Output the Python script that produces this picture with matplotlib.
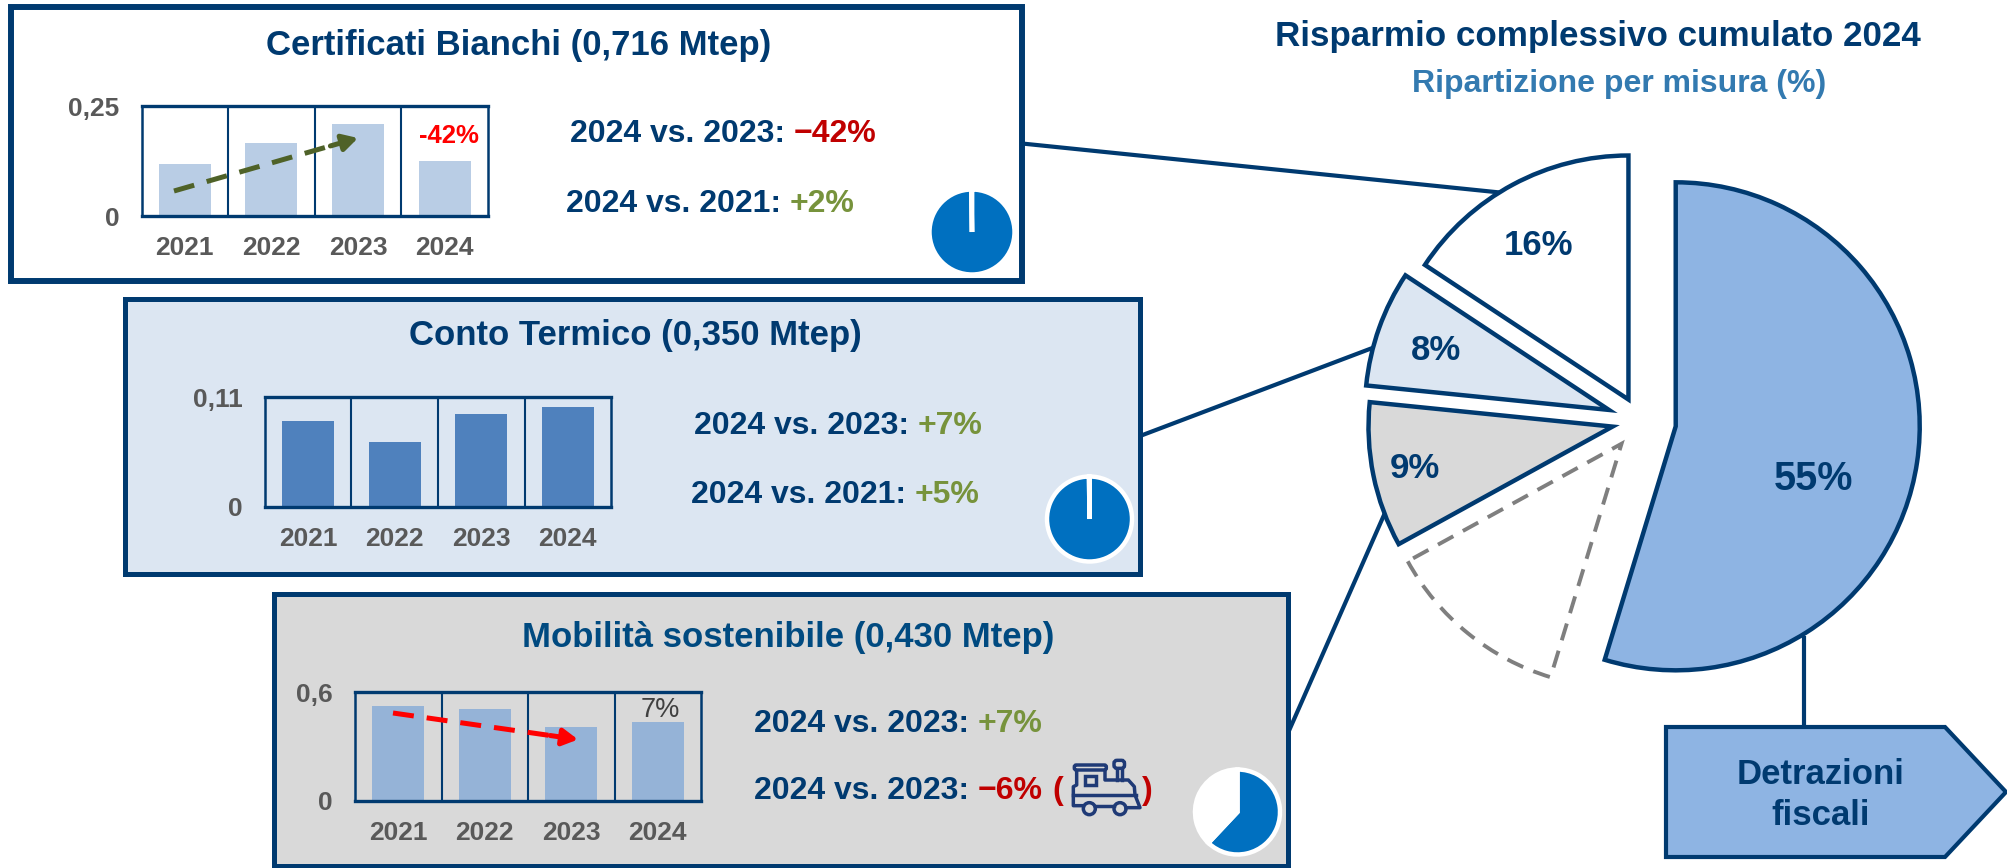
import matplotlib
matplotlib.use("Agg")
import matplotlib.pyplot as plt
from matplotlib.patches import Rectangle, Polygon, Circle, FancyBboxPatch

plt.rcParams['font.family'] = ['Liberation Sans', 'DejaVu Sans']
plt.rcParams['font.weight'] = 'bold'

NAVY = "#003a70"
GREY = "#595959"
GREEN = "#77933c"
DARKRED = "#c00000"
W, H = 2008, 868

# ---------------- Data ----------------
years = ["2021", "2022", "2023", "2024"]
cb_values = [0.118, 0.166, 0.209, 0.125]
ct_values = [0.086, 0.065, 0.093, 0.100]
mob_values = [0.523, 0.506, 0.407, 0.435]
cb_ticks = ["0", "0,25"]
ct_ticks = ["0", "0,11"]
mob_ticks = ["0", "0,6"]
cb_max, ct_max, mob_max = 0.25, 0.11, 0.6

pie_shares = [54.7, 12.3, 9.6, 7.7, 15.7]
pie_explode = [0.148, 0.12, 0.115, 0.135, 0.10]
pie_labels = ["55%", "9%", "8%", "16%"]

cb_share = [99.8, 0.2]
ct_share = [99.8, 0.2]
mob_share = [62, 38]

fig = plt.figure(figsize=(W / 100, H / 100), dpi=100, facecolor="white")


def px_axes(x0, y0, x1, y1, zorder):
    return fig.add_axes([x0 / W, 1 - y1 / H, (x1 - x0) / W, (y1 - y0) / H], zorder=zorder)


def overlay(zorder):
    ax = px_axes(0, 0, W, H, zorder)
    ax.set_xlim(0, W)
    ax.set_ylim(H, 0)
    ax.axis("off")
    return ax


bg = overlay(0)
fg = overlay(10)
renderer = fig.canvas.get_renderer()


# y is the middle of the digits, converted to a baseline so all text lines up
def label(x, y, s, size, color=NAVY, ha="center", weight="bold"):
    return fg.text(x, y + 0.358 * size / 0.72, s, fontsize=size, color=color, ha=ha,
                   va="baseline", fontweight=weight)


def rich(x, y, parts, size=23):
    for s, c in parts:
        t = label(x, y, s, size, c, ha="left")
        x += t.get_window_extent(renderer).width + 0.278 * size / 0.72
    return x


def bars(rect, values, ymax, ticks, color):
    ax = px_axes(*rect, 3)
    ax.patch.set_alpha(0)
    ax.bar(range(4), values, width=0.6, color=color, zorder=2)
    ax.set_xlim(-0.5, 3.5)
    ax.set_ylim(0, ymax)
    for d in [0.5, 1.5, 2.5]:
        ax.axvline(d, color=NAVY, lw=1.5, zorder=3)
    ax.set_xticks(range(4))
    ax.set_xticklabels(years)
    ax.set_yticks([0, ymax])
    ax.set_yticklabels(ticks)
    ax.tick_params(axis="x", length=0, pad=14.5, labelsize=19, labelcolor=GREY)
    ax.tick_params(axis="y", length=0, pad=16, labelsize=19, labelcolor=GREY)
    for side, sp in ax.spines.items():
        sp.set_color(NAVY)
        sp.set_linewidth(2.4 if side in ("top", "bottom") else 1.8)
    return ax


def mini_pie(cx, cy, share, colors):
    half = 46
    ax = px_axes(cx - half, cy - half, cx + half, cy + half, 4)
    ax.pie(share, colors=colors, startangle=90, counterclock=False, radius=1,
           wedgeprops=dict(edgecolor="white", linewidth=3.2))
    ax.set_xlim(-half / 42.5, half / 42.5)
    ax.set_ylim(-half / 42.5, half / 42.5)
    ax.axis("off")


def dashed_arrow(x0, y0, x1, y1, color):
    f = 0.88
    xm, ym = x0 + (x1 - x0) * f, y0 + (y1 - y0) * f
    fg.plot([x0, xm], [y0, ym], color=color, lw=3.6, dashes=(4.2, 2.6), solid_capstyle="butt")
    fg.annotate("", xy=(x1, y1), xytext=(xm - (x1 - x0) * 0.03, ym - (y1 - y0) * 0.03),
                arrowprops=dict(arrowstyle="-|>,head_length=0.9,head_width=0.5", color=color,
                                lw=3.6, shrinkA=0, shrinkB=0))


# ---------------- Connectors ----------------
for xs, ys in [([1022, 1500], [143.5, 192.5]), ([1140, 1375], [436, 347]),
               ([1288, 1395], [733, 490]), ([1804, 1804], [636, 728])]:
    bg.plot(xs, ys, color=NAVY, lw=3, solid_capstyle="butt", zorder=1)

# ---------------- Boxes ----------------
for x0, y0, x1, y1, fc, lw in [(11, 7, 1022, 281, "white", 4.3),
                               (125, 299, 1140, 574, "#dce6f2", 3.6),
                               (274, 594, 1288, 866, "#d9d9d9", 3.6)]:
    bg.add_patch(Rectangle((x0, y0), x1 - x0, y1 - y0, facecolor=fc, edgecolor=NAVY,
                           linewidth=lw, zorder=2))

# ---------------- Certificati Bianchi ----------------
label(519, 43, "Certificati Bianchi (0,716 Mtep)", 25)
bars((141.5, 106, 488, 216), cb_values, cb_max, cb_ticks, "#b9cde5")
dashed_arrow(174, 191, 358, 138, "#4f6228")
label(449, 134, "-42%", 18.5, "#ff0000")
rich(570, 131, [("2024 vs. 2023:", NAVY), ("\u221242%", DARKRED)])
rich(566, 201, [("2024 vs. 2021:", NAVY), ("+2%", GREEN)])
mini_pie(972, 232, cb_share, ["#0070c0", "white"])

# ---------------- Conto Termico ----------------
label(635, 333, "Conto Termico (0,350 Mtep)", 25)
bars((265, 397, 611, 507), ct_values, ct_max, ct_ticks, "#4f81bd")
rich(694, 423, [("2024 vs. 2023:", NAVY), ("+7%", GREEN)])
rich(691, 492, [("2024 vs. 2021:", NAVY), ("+5%", GREEN)])
mini_pie(1089.5, 519, ct_share, ["#0070c0", "white"])

# ---------------- Mobilita sostenibile ----------------
label(788, 635, "Mobilit\u00e0 sostenibile (0,430 Mtep)", 25, "#004a80")
bars((355, 692, 701, 801), mob_values, mob_max, mob_ticks, "#95b3d7")
dashed_arrow(393, 713, 578, 739.5, "#ff0000")
label(660, 707, "7%", 19.5, "#404040", weight="normal")
rich(754, 721, [("2024 vs. 2023:", NAVY), ("+7%", GREEN)])
rich(754, 788, [("2024 vs. 2023:", NAVY), ("\u22126%", DARKRED), ("(", DARKRED)])
label(1147, 788, ")", 23, DARKRED)
mini_pie(1237.5, 812, mob_share, ["#0070c0", "white"])


# ---------------- Train icon ----------------
def tx(X):
    return 1040 + X / 3


def ty(Y):
    return 745 + Y / 3


TRAIN = "#1f3a76"
for pts in [[(110, 78), (110, 120), (100, 125), (100, 182), (130, 182)],
            [(195, 78), (195, 105), (265, 105), (283, 125), (285, 150), (300, 188), (258, 188)],
            [(100, 150), (288, 150)],
            [(166, 182), (222, 182)],
            [(232, 72), (232, 105)], [(246, 72), (246, 105)]]:
    fg.plot([tx(p[0]) for p in pts], [ty(p[1]) for p in pts], color=TRAIN, lw=2.5, solid_joinstyle="round")
fg.add_patch(FancyBboxPatch((tx(103), ty(60)), 32, 5, boxstyle="round,pad=0,rounding_size=2",
                            fc="none", ec=TRAIN, lw=2.5))
fg.add_patch(Rectangle((tx(135), ty(92)), 11, 9, fc="none", ec=TRAIN, lw=2.5))
fg.add_patch(FancyBboxPatch((tx(222), ty(46)), 10.5, 8, boxstyle="round,pad=0,rounding_size=3",
                            fc="none", ec=TRAIN, lw=2.5))
for X in [148, 240]:
    fg.add_patch(Circle((tx(X), ty(191)), 6, fc="none", ec=TRAIN, lw=2.5))

# ---------------- Main pie ----------------
half = 300
R = 244
pie_ax = px_axes(1640 - half, 421 - half, 1640 + half, 421 + half, 2)
wedges, _ = pie_ax.pie(pie_shares, explode=pie_explode, startangle=90, counterclock=False,
                       radius=1, colors=["#8eb4e3", "none", "#d9d9d9", "#dce6f2", "white"],
                       wedgeprops=dict(edgecolor=NAVY, linewidth=3.2, joinstyle="miter"))
pie_ax.set_xlim(-half / R, half / R)
pie_ax.set_ylim(-half / R, half / R)
pie_ax.axis("off")
wedges[1].set_edgecolor("#7f7f7f")
wedges[1].set_linestyle((0, (4.5, 2.8)))
wedges[1].set_linewidth(2.8)

label(1813, 476, "55%", 28.5)
label(1415, 465.5, pie_labels[1], 25)
label(1436, 348, pie_labels[2], 25)
label(1539, 243, pie_labels[3], 25)

# ---------------- Detrazioni tag ----------------
bg.add_patch(Polygon([(1666, 727), (1945, 727), (2006, 792), (1945, 857), (1666, 857)], closed=True,
                     facecolor="#8eb4e3", edgecolor=NAVY, linewidth=3, zorder=2))
label(1821, 772, "Detrazioni", 25)
label(1821, 813, "fiscali", 25)

# ---------------- Headers ----------------
label(1598, 33, "Risparmio complessivo cumulato 2024", 25.2)
label(1619, 81, "Ripartizione per misura (%)", 23, "#337ab0")

fig.savefig("out.png", dpi=100)
